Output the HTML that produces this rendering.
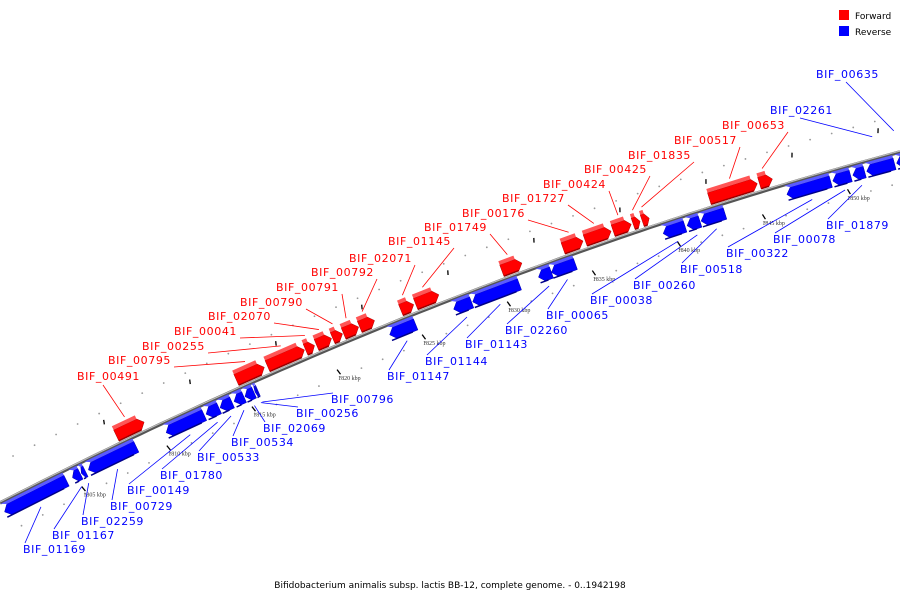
<!DOCTYPE html>
<html><head><meta charset="utf-8"><style>
html,body{margin:0;padding:0;background:#fff;}
svg{display:block;font-family:"DejaVu Sans","Liberation Sans",sans-serif;}
</style></head><body>
<svg id="chart" width="900" height="600" viewBox="0 0 900 600" xmlns="http://www.w3.org/2000/svg">
<g>
<rect x="839" y="10" width="10" height="10" fill="#f00"/>
<text x="855" y="19" font-size="9" fill="#000">Forward</text>
<rect x="839" y="26" width="10" height="10" fill="#00f"/>
<text x="855" y="35" font-size="9" fill="#000">Reverse</text>
</g>
<text x="450" y="588" font-size="9" text-anchor="middle" fill="#000">Bifidobacterium animalis subsp. lactis BB-12, complete genome. - 0..1942198</text>
<g id="layer"></g>
</svg>
<script>
const tickKbp = [1805,1810,1815,1820,1825,1830,1835,1840,1845,1850];
const fwdNames = ["BIF_00491","BIF_00795","BIF_00255","BIF_00041","BIF_02070","BIF_00790","BIF_00791","BIF_00792","BIF_02071","BIF_01145","BIF_01749","BIF_00176","BIF_01727","BIF_00424","BIF_00425","BIF_01835","BIF_00517","BIF_00653"];
const fwdStart = [1807.81,1814.82,1816.64,1818.86,1819.50,1820.44,1821.08,1822.02,1824.42,1825.29,1830.32,1833.89,1835.18,1836.81,1837.98,1838.51,1842.43,1845.35];
const fwdEnd   = [1809.44,1816.46,1818.80,1819.39,1820.38,1821.02,1821.96,1822.89,1825.18,1826.64,1831.49,1835.06,1836.70,1837.87,1838.39,1838.92,1845.23,1846.11];
const revNames = ["BIF_01169","BIF_01167","BIF_02259","BIF_00729","BIF_00149","BIF_01780","BIF_00533","BIF_00534","BIF_02069","BIF_00256","BIF_00796","BIF_01147","BIF_01144","BIF_01143","BIF_02260","BIF_00065","BIF_00038","BIF_00260","BIF_00518","BIF_00322","BIF_00078","BIF_01879","BIF_02261","BIF_00635"];
const revStart = [1800.79,1804.77,1805.29,1805.70,1810.26,1812.60,1813.42,1814.24,1814.88,1815.47,1815.58,1823.36,1827.11,1828.22,1832.08,1832.84,1839.39,1840.79,1841.61,1846.64,1849.33,1850.50,1851.32,1853.07];
const revEnd   = [1804.42,1805.23,1805.53,1808.51,1812.49,1813.36,1814.12,1814.82,1815.41,1815.58,1815.64,1824.88,1828.16,1830.96,1832.84,1834.24,1840.67,1841.55,1843.01,1849.21,1850.38,1851.20,1852.95,1853.71];
// label layout (presentation only)
const fwdLabX=[77,108,142,174,208,240,276,311,349,388,424,462,502,543,584,628,674,722];
const fwdLabY=[380,364,350,335,320,306,291,276,262,245,231,217,202,188,173,159,144,129];
const revLabX=[23,52,81,110,127,160,197,231,263,296,331,387,425,465,505,546,590,633,680,726,773,826,770,816];
const revLabY=[553,539,525,510,494,479,461,446,432,417,403,380,365,348,334,319,304,289,273,257,243,229,114,78];

const NS="http://www.w3.org/2000/svg";
const layer=document.getElementById('layer');
function X(k){return 72+(k-1805)*17.1;}
function curve(x){const t=x/900;const y=(1-t)*(1-t)*503+2*t*(1-t)*272.5+t*t*152;
 const dy=2*(1-t)*(272.5-503)+2*t*(152-272.5);const L=Math.hypot(900,dy);
 return {y:y,tx:900/L,ty:dy/L};}
function P(x,off){const c=curve(x);return [x+c.ty*off, c.y-c.tx*off];}
function mk(tag,attrs){const e=document.createElementNS(NS,tag);for(const k in attrs)e.setAttribute(k,attrs[k]);layer.appendChild(e);return e;}
function poly(pts){return pts.map(p=>p[0].toFixed(1)+','+p[1].toFixed(1)).join(' ');}

for(let k=1800;k<=1855;k+=1.25){
 const x=X(k); if(x<0||x>900)continue;
 [36,-30].forEach(o=>{const p=P(x,o);const d=mk('circle',{cx:p[0],cy:p[1],r:0.9,fill:'#999'});
 
 });
}
let d='';for(let x=0;x<=900;x+=10){const c=curve(x);d+=(x?'L':'M')+x+','+c.y.toFixed(1);}
const ax1=mk('path',{d:d,stroke:'#555',fill:'none','stroke-width':3.5});


const ax2=mk('path',{d:d,stroke:'#bbb',fill:'none','stroke-width':1.2,transform:'translate(0,-1)'});


tickKbp.forEach(k=>{
 const x=X(k);const a=P(x,-22),b=P(x,-27);
 const t=mk('line',{x1:a[0],y1:a[1],x2:b[0]+1.5,y2:b[1],stroke:'#000','stroke-width':1.3});
 
 
 const a2=P(X(k+2.5),24),b2=P(X(k+2.5),29);
 const t2=mk('line',{x1:a2[0],y1:a2[1],x2:b2[0]+1.5,y2:b2[1],stroke:'#000','stroke-width':1.3});
 
 
 const lp=P(x,-33);
 const tl=mk('text',{x:lp[0]+8,y:lp[1],'font-size':6,'text-anchor':'middle',fill:'#333','font-family':'Liberation Serif, serif'});
 tl.textContent=k+' kbp';
 
 
});
function gene(s,e,fwd,name){
 const x1=X(s),x2=X(e);const head=Math.min(5,(x2-x1)*0.5);
 const o1=fwd?3:-4,o2=fwd?15:-16,om=(o1+o2)/2;
 let pts;
 if(fwd) pts=[P(x1,o1),P(x2-head,o1),P(x2,om),P(x2-head,o2),P(x1,o2)];
 else pts=[P(x1+head,o1),P(x2,o1),P(x2,o2),P(x1+head,o2),P(x1,om)];
 const main=mk('polygon',{points:poly(pts),fill:fwd?'#f00':'#00f',stroke:fwd?'#a00':'#00a','stroke-width':0.5});
 
 
 const f1=fwd?15:-1,f2=fwd?19:-4;
 const top=mk('polygon',{points:poly([P(x1,f1),P(x2-(fwd?head:0),f1),P(x2-(fwd?head:0),f2),P(x1+(fwd?0:head),f2)]),fill:fwd?'#ff5555':'#5a5aff'});
 
 
 const sh=mk('polyline',{points:poly([P(x1,fwd?o1:o2),P(x2-head,fwd?o1:o2)]),stroke:fwd?'#900':'#008',fill:'none','stroke-width':1.5});
 
 
}
function label(name,lx,ly,s,e,fwd,i){
 const xm=(X(s)+X(e))/2;
 let start,target;
 if(fwd){target=P(xm,22);start=(i===0)?[lx+26,ly+5]:[lx+66,ly+3];}
 else{
  if(ly<150){target=P(xm,22);start=[lx+30,ly+4];}
  else{target=P(xm,-22);start=[lx+2,ly-10];}
 }
 const l=mk('line',{x1:start[0],y1:start[1],x2:target[0],y2:target[1],stroke:fwd?'#f00':'#00f','stroke-width':0.8});
 
 
 const t=mk('text',{x:lx,y:ly,'font-size':11,'letter-spacing':0.6,fill:fwd?'#f00':'#00f'});
 t.textContent=name;
 
 
}
fwdNames.forEach((n,i)=>gene(fwdStart[i],fwdEnd[i],true,n));
revNames.forEach((n,i)=>gene(revStart[i],revEnd[i],false,n));
fwdNames.forEach((n,i)=>label(n,fwdLabX[i],fwdLabY[i],fwdStart[i],fwdEnd[i],true,i));
revNames.forEach((n,i)=>label(n,revLabX[i],revLabY[i],revStart[i],revEnd[i],false,i));
</script>
</body></html>
